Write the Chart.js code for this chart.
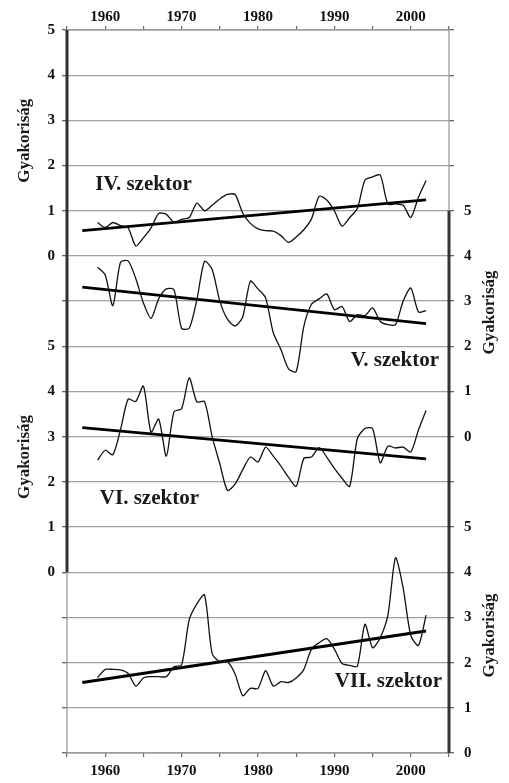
<!DOCTYPE html>
<html>
<head>
<meta charset="utf-8">
<script src="https://cdn.jsdelivr.net/npm/chart.js@4/dist/chart.umd.min.js"></script>
<style>
html,body{margin:0;padding:0;background:#fff;}
#wrap{width:509px;height:783px;position:relative;}
</style>
</head>
<body>
<div id="wrap"><canvas id="c" width="509" height="783"></canvas></div>
<script>
// ---- data ----
const years = [1959,1960,1961,1962,1963,1964,1965,1966,1967,1968,1969,1970,1971,1972,1973,1974,1975,1976,1977,1978,1979,1980,1981,1982,1983,1984,1985,1986,1987,1988,1989,1990,1991,1992,1993,1994,1995,1996,1997,1998,1999,2000,2001,2002];
const sectorIV  = [0.74,0.63,0.74,0.67,0.62,0.22,0.40,0.62,0.94,0.92,0.75,0.81,0.85,1.17,1.00,1.12,1.26,1.36,1.36,0.95,0.72,0.60,0.56,0.55,0.45,0.30,0.42,0.58,0.82,1.32,1.24,1.00,0.66,0.85,1.05,1.68,1.75,1.79,1.15,1.15,1.12,0.85,1.30,1.67];
const sectorV   = [3.75,3.58,2.90,3.86,3.89,3.50,2.96,2.62,3.05,3.27,3.25,2.40,2.40,3.03,3.88,3.70,3.00,2.60,2.45,2.65,3.44,3.27,3.07,2.30,1.93,1.50,1.44,2.44,2.93,3.05,3.16,2.81,2.88,2.55,2.70,2.68,2.85,2.55,2.48,2.48,3.00,3.29,2.76,2.79];
const sectorVI  = [2.48,2.70,2.60,3.15,3.83,3.78,4.12,3.10,3.39,2.57,3.55,3.62,4.30,3.77,3.78,3.00,2.40,1.81,1.95,2.27,2.55,2.44,2.77,2.57,2.35,2.10,1.90,2.52,2.55,2.76,2.55,2.30,2.08,1.90,2.96,3.18,3.18,2.42,2.79,2.75,2.77,2.66,3.15,3.58];
const sectorVII = [1.67,1.85,1.85,1.84,1.76,1.48,1.66,1.69,1.69,1.69,1.91,1.95,2.95,3.30,3.50,2.20,2.02,2.02,1.75,1.27,1.43,1.43,1.82,1.48,1.58,1.56,1.66,1.85,2.30,2.44,2.53,2.30,1.98,1.94,1.92,2.85,2.33,2.55,3.05,4.32,3.65,2.60,2.38,3.05];
const trendYears = [1957, 2002];
const trendIV  = [0.56, 1.24];
const trendV   = [3.31, 2.50];
const trendVI  = [3.20, 2.51];
const trendVII = [1.56, 2.70];
const sectorNames = ['IV. szektor','V. szektor','VI. szektor','VII. szektor'];
const axisTitle = 'Gyakoriság';
// tick labels of the shared grid (one entry per grid line, bottom to top)
const leftTickLabels  = ['','','','','0','1','2','3','4','5','','0','1','2','3','4','5'];
const rightTickLabels = ['0','1','2','3','4','5','','0','1','2','3','4','5','','','',''];

// ---- helpers ----
const pts = (xs, ys) => xs.map((x, i) => ({x: x, y: ys[i]}));
const FONT = 'Liberation Serif, Times New Roman, serif';

const lineDS = (label, ys, axis) => ({label, data: pts(years, ys), yAxisID: axis, xAxisID: 'x',
  borderColor: '#111', borderWidth: 1.3, pointRadius: 0, tension: 0.25, fill: false});
const trendDS = (label, ys, axis) => ({label, data: pts(trendYears, ys), yAxisID: axis, xAxisID: 'x',
  borderColor: '#000', borderWidth: 2.8, pointRadius: 0, tension: 0, fill: false});

const decor = {
  id: 'decor',
  afterDatasetsDraw(chart) {
    const ctx = chart.ctx, ca = chart.chartArea, s = chart.scales;
    ctx.save();
    // plot border (thin grey)
    ctx.strokeStyle = '#9a9a9a'; ctx.lineWidth = 1.3;
    ctx.strokeRect(ca.left, ca.top, ca.right - ca.left, ca.bottom - ca.top);
    // thick axis segments
    ctx.strokeStyle = '#333'; ctx.lineWidth = 3;
    ctx.beginPath();
    ctx.moveTo(ca.left, s.yVI.getPixelForValue(0)); ctx.lineTo(ca.left, s.yIV.getPixelForValue(5));
    ctx.moveTo(ca.right, s.yVII.getPixelForValue(0)); ctx.lineTo(ca.right, s.yV.getPixelForValue(5));
    ctx.stroke();
    // sector labels
    ctx.fillStyle = '#1a1a1a';
    ctx.font = 'bold 21px ' + FONT;
    ctx.textBaseline = 'middle';
    const lab = [
      {t: sectorNames[0], ax: 'yIV',  x: 1958.7, y: 1.59, align: 'left'},
      {t: sectorNames[1], ax: 'yV',   x: 2003.7, y: 1.68, align: 'right'},
      {t: sectorNames[2], ax: 'yVI',  x: 1959.3, y: 1.64, align: 'left'},
      {t: sectorNames[3], ax: 'yVII', x: 2004.1, y: 1.57, align: 'right'}
    ];
    lab.forEach(l => {
      ctx.textAlign = l.align;
      ctx.fillText(l.t, s.x.getPixelForValue(l.x), s[l.ax].getPixelForValue(l.y));
    });
    // axis titles
    ctx.font = 'bold 17px ' + FONT;
    ctx.textAlign = 'center';
    const titles = [
      {ax: 'yIV', v: 2.55, x: 25}, {ax: 'yVI', v: 2.55, x: 25},
      {ax: 'yV', v: 2.75, x: 490}, {ax: 'yVII', v: 2.6, x: 490}
    ];
    titles.forEach(t => {
      ctx.save();
      ctx.translate(t.x, s[t.ax].getPixelForValue(t.v));
      ctx.rotate(-Math.PI / 2);
      ctx.fillText(axisTitle, 0, 0);
      ctx.restore();
    });
    ctx.restore();
  }
};

const tickFont = {family: FONT, size: 15, weight: 'bold'};
const xAxis = (pos) => ({
  type: 'linear', position: pos, min: 1955, max: 2005,
  afterFit: sc => { sc.height = 30; },
  border: {display: false},
  grid: {drawOnChartArea: false, drawTicks: true, tickLength: 4, color: '#666', lineWidth: 1.2},
  ticks: {stepSize: 5, autoSkip: false, maxRotation: 0, font: tickFont, color: '#111',
    padding: pos === 'top' ? 0 : 5,
    callback: v => (v % 10 === 0 ? String(v) : '')}
});
const hiddenY = (min, max) => ({type: 'linear', display: false, min, max});

new Chart(document.getElementById('c'), {
  type: 'line',
  data: {datasets: [
    lineDS('IV', sectorIV, 'yIV'), trendDS('IV trend', trendIV, 'yIV'),
    lineDS('V', sectorV, 'yV'), trendDS('V trend', trendV, 'yV'),
    lineDS('VI', sectorVI, 'yVI'), trendDS('VI trend', trendVI, 'yVI'),
    lineDS('VII', sectorVII, 'yVII'), trendDS('VII trend', trendVII, 'yVII')
  ]},
  options: {
    responsive: false, animation: false, devicePixelRatio: 1,
    layout: {padding: 0},
    plugins: {legend: {display: false}, tooltip: {enabled: false}},
    scales: {
      x: xAxis('bottom'),
      xTop: xAxis('top'),
      yL: {type: 'linear', position: 'left', min: 0, max: 16,
        afterFit: sc => { sc.width = 67; },
        border: {display: false},
        grid: {color: '#a0a0a0', lineWidth: 1.3, tickLength: 5, tickColor: '#666'},
        ticks: {stepSize: 1, autoSkip: false, font: tickFont, color: '#111', padding: 7,
          callback: v => leftTickLabels[v] || ''}},
      yR: {type: 'linear', position: 'right', min: 0, max: 16,
        afterFit: sc => { sc.width = 60; },
        border: {display: false},
        grid: {drawOnChartArea: false, tickLength: 5, color: '#666', lineWidth: 1.3},
        ticks: {stepSize: 1, autoSkip: false, font: tickFont, color: '#111', padding: 10,
          callback: v => rightTickLabels[v] || ''}},
      yIV: hiddenY(-11, 5),
      yV: hiddenY(-7, 9),
      yVI: hiddenY(-4, 12),
      yVII: hiddenY(0, 16)
    }
  },
  plugins: [decor]
});
</script>
</body>
</html>
